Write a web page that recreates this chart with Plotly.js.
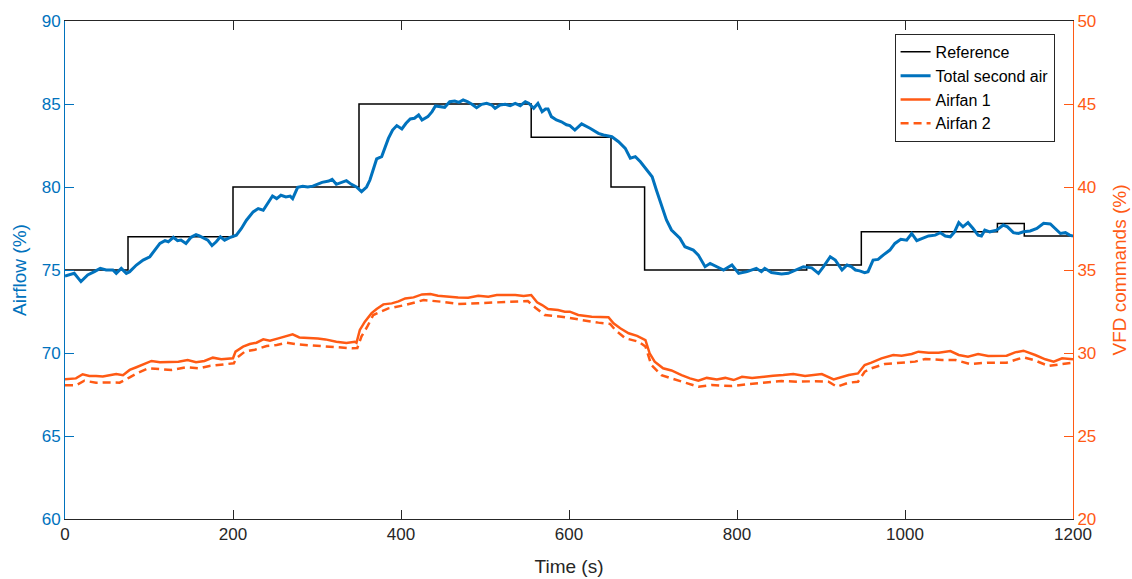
<!DOCTYPE html>
<html>
<head>
<meta charset="utf-8">
<script src="https://cdn.plot.ly/plotly-3.0.1.min.js"></script>
<style>html,body{margin:0;padding:0;background:#fff;}#chart{width:1132px;height:579px;}</style>
</head>
<body>
<div id="chart"></div>
<script>
// Reference setpoint (step changes)
const refTime = [0, 75, 200, 350, 555, 650, 690, 883, 948, 1110, 1142, 1200];
const refValue = [75, 77, 80, 85, 83, 80, 75, 75.3, 77.3, 77.8, 77.05, 77.05];

// Total second air (%)
const airTime = [0,11,19,27,35,42,49,57,61,67,73,77,85,93,101,107,113,119,123,129,
134,138,144,150,156,160,166,170,175,180,185,190,196,201,204,210,216,224,230,236,
242,247,252,257,263,268,271,277,283,289,295,301,306,314,318,323,329,335,341,347,
353,359,363,367,371,377,381,385,390,395,401,406,411,416,421,425,432,437,441,446,
452,458,464,469,474,479,484,490,496,502,508,512,518,524,530,536,542,548,552,558,
563,568,572,575,579,585,591,597,601,607,615,625,635,641,651,659,667,673,679,685,
693,699,704,710,716,722,732,738,748,754,762,768,776,784,794,802,812,823,829,833,
841,853,861,869,879,889,897,903,911,917,925,931,936,941,946,952,956,962,968,974,
982,988,995,1002,1008,1014,1020,1028,1036,1042,1048,1054,1059,1064,1069,1075,1081,1087,1091,1095,
1101,1109,1117,1122,1129,1135,1141,1149,1157,1165,1173,1179,1185,1191,1196,1200];
const airValue = [74.64,74.8,74.3,74.7,74.9,75.1,75.0,75.0,74.8,75.1,74.8,74.9,75.3,75.6,75.8,76.2,76.6,76.77,76.7,76.97,
76.77,76.8,76.6,76.97,77.13,77.05,76.9,76.8,76.47,76.7,77.0,76.8,76.95,77.05,77.1,77.5,78.0,78.5,78.7,78.6,
79.1,79.46,79.3,79.5,79.4,79.45,79.3,79.98,80.05,80.0,80.05,80.2,80.28,80.36,80.46,80.16,80.28,80.38,80.16,80.0,
79.72,80.0,80.42,81.13,81.69,81.83,82.33,82.93,83.43,83.7,83.5,83.84,84.1,84.14,84.34,84.04,84.24,84.54,84.88,84.84,
84.8,85.14,85.18,85.1,85.24,85.14,85.0,84.78,84.98,85.04,84.94,84.74,84.94,84.98,84.9,85.04,84.9,85.14,85.05,84.74,
85.04,84.54,84.7,84.7,84.24,84.04,83.93,83.75,83.7,83.43,83.8,83.54,83.23,83.13,83.03,82.73,82.33,81.73,81.83,81.52,
81.02,80.62,79.82,78.92,78.01,77.41,76.91,76.4,76.2,75.9,75.2,75.4,75.2,75.0,75.3,74.8,74.9,75.1,74.9,75.1,
74.85,74.76,74.8,75.0,75.2,75.13,74.8,75.2,75.8,75.6,75.0,75.3,75.2,75.0,74.95,74.84,74.9,75.6,75.64,75.9,
76.2,76.6,76.85,76.8,77.2,76.77,76.9,77.05,77.1,77.25,77.05,77.0,77.3,77.85,77.6,77.85,77.5,77.1,77.05,77.4,
77.3,77.4,77.71,77.6,77.25,77.2,77.3,77.35,77.5,77.81,77.77,77.5,77.2,77.25,77.1,77.05];

// Airfan 1 VFD command (%)
const fan1Time = [0,13,21,29,37,45,53,61,69,77,85,93,103,113,125,135,146,156,166,176,
186,200,203,212,220,228,236,244,254,262,271,279,289,301,310,323,335,345,347,351,
357,365,371,379,389,397,405,415,425,435,444,456,468,480,492,504,514,524,536,546,
555,562,568,575,587,595,601,611,627,647,653,661,671,681,691,696,702,712,722,734,
744,754,764,776,786,796,806,818,829,843,855,867,881,893,901,915,925,933,944,952,
960,972,986,996,1008,1016,1028,1040,1054,1064,1075,1087,1099,1121,1131,1141,1155,1167,1177,1187,1200];
const fan1Value = [28.42,28.47,28.72,28.62,28.62,28.58,28.66,28.74,28.66,28.98,29.14,29.32,29.52,29.44,29.44,29.48,29.58,29.44,29.52,29.72,
29.62,29.68,30.08,30.38,30.54,30.62,30.82,30.74,30.88,30.98,31.12,30.94,30.92,30.88,30.82,30.68,30.6,30.68,30.62,31.39,
31.89,32.4,32.65,32.93,32.99,33.11,33.29,33.35,33.53,33.55,33.45,33.39,33.35,33.33,33.45,33.39,33.49,33.49,33.49,33.43,
33.49,33.05,32.89,32.65,32.59,32.49,32.49,32.29,32.19,32.15,31.79,31.49,31.19,31.03,30.78,29.98,29.48,29.08,28.95,28.67,
28.47,28.33,28.5,28.41,28.5,28.37,28.57,28.5,28.57,28.63,28.67,28.73,28.61,28.67,28.73,28.41,28.57,28.67,28.77,29.28,
29.42,29.68,29.88,29.84,29.94,30.08,30.02,30.02,30.12,29.88,29.78,29.94,29.82,29.84,30.04,30.14,29.88,29.62,29.48,29.68,29.62];

// Airfan 2 VFD command (%)
const fan2Time = [0,13,23,37,49,65,77,87,99,113,127,144,160,172,186,201,204,214,226,240,
252,264,276,289,301,313,326,342,348,353,360,367,385,405,427,448,468,492,514,536,
551,560,571,591,601,615,635,649,655,667,683,691,698,710,722,734,754,770,794,814,
833,853,873,893,909,919,933,944,952,960,976,994,1012,1024,1044,1060,1077,1099,1121,1141,
1153,1171,1187,1200];
const fan2Value = [28.05,28.05,28.33,28.21,28.23,28.21,28.53,28.81,29.08,29.04,28.98,29.14,29.08,29.22,29.28,29.38,29.68,30.08,30.2,30.42,
30.48,30.62,30.52,30.48,30.42,30.42,30.34,30.28,30.3,31.0,31.6,32.29,32.69,32.89,33.19,33.09,32.95,33.0,33.05,33.09,
33.13,32.73,32.29,32.19,32.09,31.99,31.83,31.75,31.39,30.89,30.68,30.39,29.28,28.67,28.47,28.27,27.97,28.07,28.01,28.13,
28.23,28.31,28.27,28.3,28.27,27.97,28.21,28.27,28.87,29.08,29.34,29.42,29.48,29.64,29.58,29.58,29.34,29.42,29.42,29.74,
29.58,29.22,29.34,29.42];

const BLUE = '#0072BD';
const ORANGE = '#FF5A14';
const FONT = 'Liberation Sans, Arial, sans-serif';

const traces = [
  {x: refTime, y: refValue, name: 'Reference', type: 'scatter', mode: 'lines',
   line: {color: '#000000', width: 1.5, shape: 'hv'}, yaxis: 'y'},
  {x: airTime, y: airValue, name: 'Total second air', type: 'scatter', mode: 'lines',
   line: {color: BLUE, width: 3}, yaxis: 'y'},
  {x: fan1Time, y: fan1Value, name: 'Airfan 1', type: 'scatter', mode: 'lines',
   line: {color: ORANGE, width: 2.5}, yaxis: 'y2'},
  {x: fan2Time, y: fan2Value, name: 'Airfan 2', type: 'scatter', mode: 'lines',
   line: {color: ORANGE, width: 2.5, dash: '8px,5px'}, yaxis: 'y2'}
];

const layout = {
  width: 1132, height: 579,
  margin: {l: 65, r: 59, t: 21, b: 60},
  paper_bgcolor: '#ffffff', plot_bgcolor: '#ffffff',
  font: {family: FONT, size: 17, color: '#262626'},
  showlegend: true,
  legend: {x: 0.823, y: 0.974, xanchor: 'left', yanchor: 'top',
    bgcolor: '#ffffff', bordercolor: '#262626', borderwidth: 1,
    font: {family: FONT, size: 16, color: '#000000'}, tracegroupgap: 0},
  xaxis: {range: [0, 1200], dtick: 200, tick0: 0, ticks: 'inside', ticklen: 9, tickwidth: 1,
    tickcolor: '#262626', showline: true, linecolor: '#262626', linewidth: 1, mirror: 'ticks',
    showgrid: false, zeroline: false, tickfont: {size: 17, color: '#262626'},
    title: {text: 'Time (s)', font: {size: 19, color: '#262626'}, standoff: 16}},
  yaxis: {range: [60, 90], dtick: 5, tick0: 60, ticks: 'inside', ticklen: 9, tickwidth: 1,
    tickcolor: BLUE, showline: true, linecolor: BLUE, linewidth: 1,
    showgrid: false, zeroline: false, tickfont: {size: 17, color: BLUE},
    title: {text: 'Airflow (%)', font: {size: 19, color: BLUE}, standoff: 10}},
  yaxis2: {range: [20, 50], dtick: 5, tick0: 20, ticks: 'inside', ticklen: 9, tickwidth: 1,
    tickcolor: ORANGE, showline: true, linecolor: ORANGE, linewidth: 1,
    overlaying: 'y', side: 'right', anchor: 'x',
    showgrid: false, zeroline: false, tickfont: {size: 17, color: ORANGE},
    title: {text: 'VFD commands (%)', font: {size: 19, color: ORANGE}, standoff: 17}}
};

Plotly.newPlot('chart', traces, layout, {displayModeBar: false, staticPlot: true});
</script>
</body>
</html>
